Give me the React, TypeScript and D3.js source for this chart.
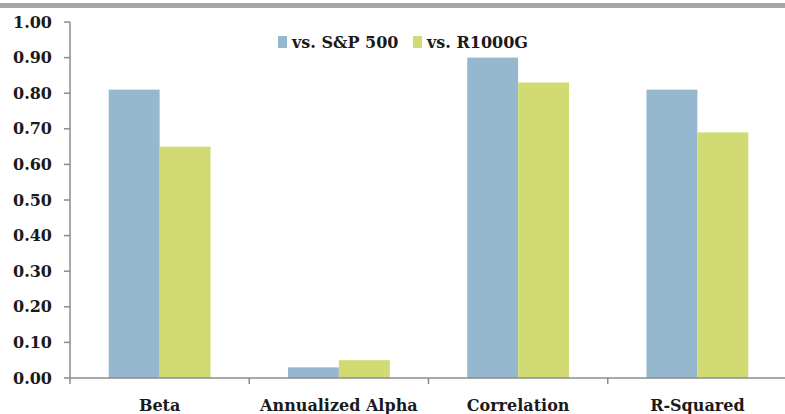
import React from "react";
import * as d3 from "d3";

const categories = ["Beta", "Annualized Alpha", "Correlation", "R-Squared"];
const seriesNames = ["vs. S&P 500", "vs. R1000G"];
const sp500 = [0.81, 0.03, 0.9, 0.81];
const r1000g = [0.65, 0.05, 0.83, 0.69];
const yTicks = [0, 0.1, 0.2, 0.3, 0.4, 0.5, 0.6, 0.7, 0.8, 0.9, 1.0];

const colors = ["#95B8CF", "#D2DB73"];
const W = 785;
const H = 414;
const FONT = "'DejaVu Serif', serif";

const App = () => {
  const x = d3.scaleBand().domain(categories).range([70, 787]).paddingInner(0).paddingOuter(0);
  const inner = d3
    .scaleBand()
    .domain(seriesNames)
    .range([0, x.bandwidth()])
    .paddingInner(0)
    .paddingOuter(0.76);
  const y = d3.scaleLinear().domain([0, 1]).range([378, 22]);
  const series = [sp500, r1000g];

  return (
    <svg width={W} height={H} style={{ position: "absolute", left: 0, top: 0, background: "#fff" }}>
      <rect x={0} y={3} width={W} height={5} fill="#a6a6a6" />
      {/* bars */}
      {series.map((vals, s) =>
        categories.map((c, i) => (
          <rect
            key={`${s}-${i}`}
            x={(x(c) ?? 0) + (inner(seriesNames[s]) ?? 0)}
            y={y(vals[i])}
            width={inner.bandwidth()}
            height={y(0) - y(vals[i])}
            fill={colors[s]}
          />
        ))
      )}
      {/* y axis */}
      <line x1={70} x2={70} y1={y(1)} y2={y(0)} stroke="#8c8c8c" strokeWidth={1.5} />
      {yTicks.map((t) => (
        <g key={t}>
          <line x1={64} x2={70} y1={y(t)} y2={y(t)} stroke="#8c8c8c" strokeWidth={1.5} />
          <text
            x={52}
            y={y(t)}
            dy="0.35em"
            textAnchor="end"
            fontFamily={FONT}
            fontWeight="bold"
            fontSize={16}
            fill="#1a1a1a"
          >
            {t.toFixed(2)}
          </text>
        </g>
      ))}
      {/* x axis */}
      <line x1={70} x2={W} y1={y(0)} y2={y(0)} stroke="#8c8c8c" strokeWidth={1.5} />
      {categories.map((c) => (
        <g key={c}>
          <line
            x1={x(c) ?? 0}
            x2={x(c) ?? 0}
            y1={y(0)}
            y2={y(0) + 6}
            stroke="#8c8c8c"
            strokeWidth={1.5}
          />
          <text
            x={(x(c) ?? 0) + x.bandwidth() / 2}
            y={411}
            textAnchor="middle"
            fontFamily={FONT}
            fontWeight="bold"
            fontSize={16}
            fill="#1a1a1a"
          >
            {c}
          </text>
        </g>
      ))}
      {/* legend */}
      <g fontFamily={FONT} fontWeight="bold" fontSize={16} fill="#1a1a1a">
        <rect x={278} y={36} width={9} height={12} fill={colors[0]} />
        <text x={292} y={48}>{seriesNames[0]}</text>
        <rect x={413} y={36} width={9} height={12} fill={colors[1]} />
        <text x={427} y={48}>{seriesNames[1]}</text>
      </g>
    </svg>
  );
};

export default App;
